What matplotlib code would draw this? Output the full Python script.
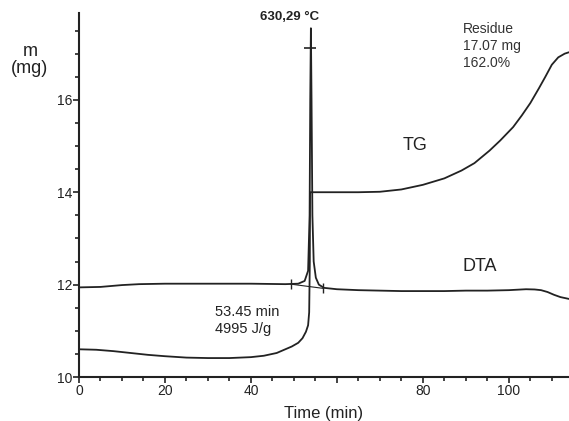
import numpy as np
import matplotlib
matplotlib.use("Agg")
import matplotlib.pyplot as plt
from matplotlib.ticker import MultipleLocator, FixedLocator

#TG curve (time in min, mass in mg)
tg_time = [0, 4, 8, 12, 16, 20, 25, 30, 35, 40, 43, 46, 48, 49.5, 51, 52, 52.8, 53.3, 53.55, 53.7, 53.75,
           54, 60, 65, 70, 75, 80, 85, 89, 92, 95.5, 98, 101, 103, 105, 107, 108.5, 110, 111.5, 113, 114]
tg_mass = [10.6, 10.59, 10.56, 10.52, 10.48, 10.45, 10.42, 10.41, 10.41, 10.43, 10.46, 10.52, 10.6, 10.66,
           10.74, 10.84, 10.98, 11.12, 11.4, 12.5, 14.0,
           14.0, 14.0, 14.0, 14.01, 14.06, 14.16, 14.3, 14.47, 14.63, 14.9, 15.12, 15.41, 15.66, 15.93,
           16.25, 16.5, 16.76, 16.92, 17.0, 17.03]

#DTA curve (plotted on the same axis)
dta_time = [0, 5, 10, 14, 20, 30, 40, 48, 51, 52.5, 53.3, 53.65, 53.8, 53.95, 54.1, 54.3, 54.6, 55.1, 55.8,
            57, 60, 65, 70, 75, 80, 85, 90, 95, 100, 102, 104, 106, 107.5, 109, 110.5, 112, 114]
dta_val = [11.94, 11.95, 11.99, 12.01, 12.02, 12.02, 12.02, 12.01, 12.02, 12.08, 12.3, 13.5, 16.0, 17.55,
           16.0, 13.5, 12.5, 12.15, 12.0, 11.93, 11.9, 11.88, 11.87, 11.86, 11.86, 11.86, 11.87, 11.87,
           11.88, 11.89, 11.9, 11.895, 11.88, 11.84, 11.78, 11.73, 11.69]

#Peak integration limits and marker
base_time = [49.3, 56.7]
base_val = [12.01, 11.92]
peak_time = [53.8]
peak_mark = [17.12]

xtick_pos = [0, 20, 40, 60, 80, 100]
xtick_lab = ['0', '20', '40', '', '80', '100']
ytick_pos = [10, 12, 14, 16]

lc = '#222222'
plt.rcParams['font.family'] = ['Liberation Sans', 'DejaVu Sans']

fig = plt.figure(figsize=(5.69, 4.21), dpi=100)
ax = fig.add_axes([79/569, 1-377/421, 1-79/569, (377-13)/421])

ax.plot(tg_time, tg_mass, color=lc, lw=1.3)
ax.plot(dta_time, dta_val, color=lc, lw=1.3)
ax.plot(base_time, base_val, color=lc, lw=0.8, marker='|', markersize=7, mew=1)
ax.plot(peak_time, peak_mark, color=lc, marker='_', markersize=9, mew=1.2, ls='none')

ax.set_xlim(0, 114)
ax.set_ylim(10, 17.88)
ax.xaxis.set_major_locator(FixedLocator(xtick_pos))
ax.set_xticklabels(xtick_lab)
ax.xaxis.set_minor_locator(MultipleLocator(5))
ax.yaxis.set_major_locator(FixedLocator(ytick_pos))
ax.yaxis.set_minor_locator(MultipleLocator(0.5))
ax.tick_params(which='both', direction='out', color=lc, width=1.2, labelsize=10, labelcolor='#222222')
ax.tick_params(which='major', length=4, pad=1)
ax.tick_params(which='minor', length=3)
for s in ['top', 'right']:
    ax.spines[s].set_visible(False)
for s in ['left', 'bottom']:
    ax.spines[s].set_color(lc)
    ax.spines[s].set_linewidth(1.5)

ax.set_xlabel('Time (min)', fontsize=12, color='#222222', labelpad=6)
fig.text(30/569, 1-60/421, 'm\n(mg)', ha='center', va='center', fontsize=13, color='#222222', linespacing=1.0)

ax.text(49.1, 17.79, '630,29 °C', ha='center', va='center', fontsize=9.5, fontweight='bold', color='#222222')
ax.text(89.3, 17.69, 'Residue\n17.07 mg\n162.0%', ha='left', va='top', fontsize=10, color='#333333', linespacing=1.3)
ax.text(78.1, 15.02, 'TG', ha='center', va='center', fontsize=13, color='#222222')
ax.text(93.3, 12.4, 'DTA', ha='center', va='center', fontsize=13, color='#222222')
ax.text(31.6, 11.56, '53.45 min\n4995 J/g', ha='left', va='top', fontsize=10.5, color='#222222', linespacing=1.25)

fig.savefig('out.png', dpi=100)
